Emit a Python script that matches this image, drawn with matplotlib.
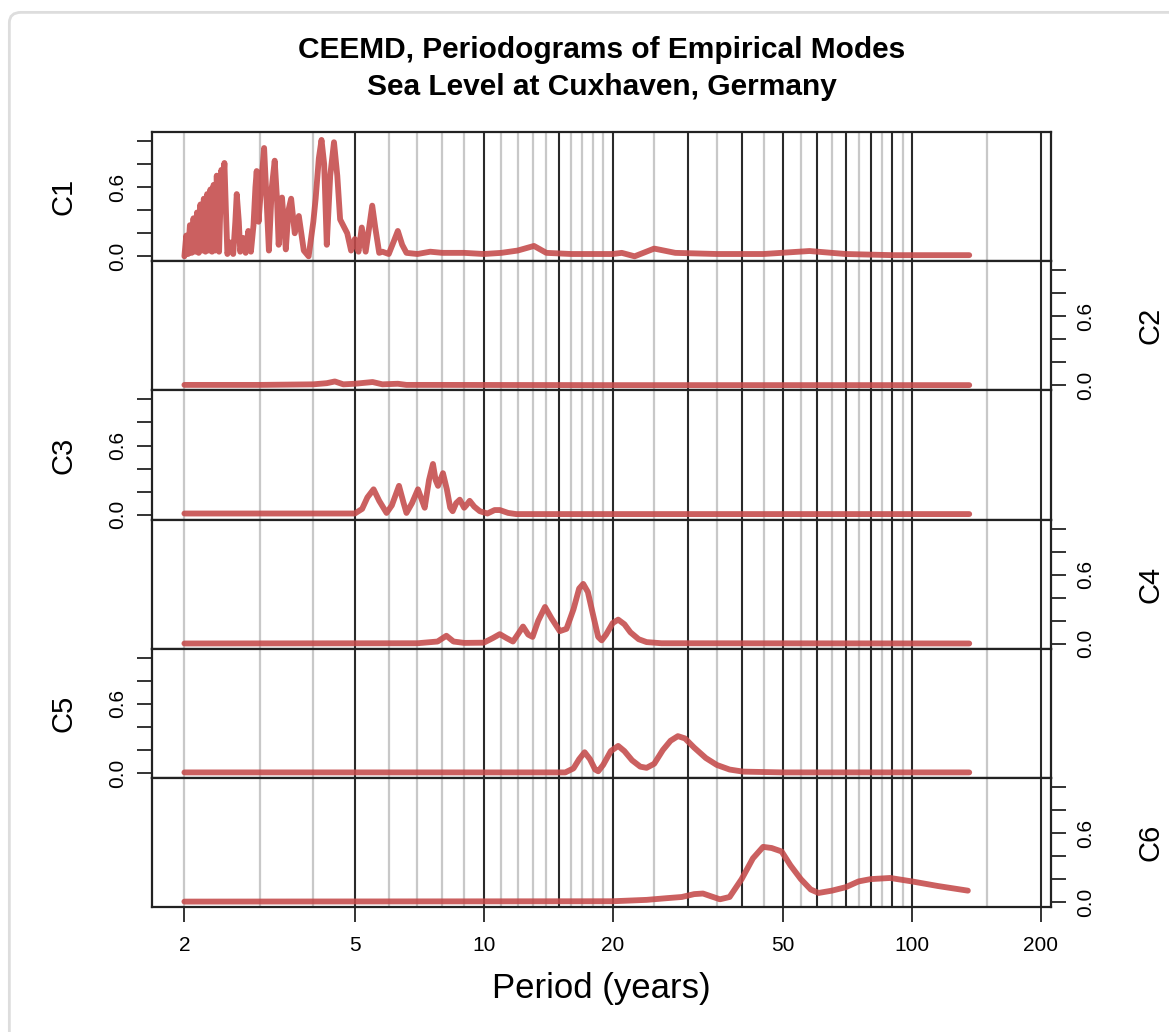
import matplotlib.pyplot as plt
import numpy as np
from matplotlib.patches import FancyBboxPatch

# periodogram values (period in years, power)
c1_period = [2.0, 2.02, 2.04, 2.06, 2.08, 2.1, 2.12, 2.14, 2.16, 2.18, 2.2, 2.22, 2.24, 2.26,
             2.28, 2.3, 2.32, 2.34, 2.36, 2.38, 2.41, 2.44, 2.46, 2.48, 2.5, 2.52, 2.56, 2.6,
             2.63, 2.65, 2.68, 2.7, 2.74, 2.78, 2.82, 2.86, 2.9, 2.93, 2.95, 2.98, 3.02, 3.07,
             3.11, 3.15, 3.2, 3.25, 3.29, 3.32, 3.38, 3.45, 3.5, 3.55, 3.62, 3.7, 3.8, 3.9,
             4.0, 4.05, 4.12, 4.18, 4.24, 4.3, 4.38, 4.47, 4.55, 4.62, 4.8, 4.9, 5.0, 5.1,
             5.19, 5.3, 5.4, 5.49, 5.58, 5.7, 5.8, 6.0, 6.15, 6.3, 6.45, 6.6, 7.0, 7.5, 8.0,
             9.0, 10.0, 11.0, 12.0, 13.1, 14.0, 16.0, 20.0, 21.0, 22.5, 25.0, 28.0, 35.0, 45.0,
             57.6, 70.0, 90.0, 136.0]
c1_value = [0.0, 0.18, 0.02, 0.27, 0.03, 0.33, 0.04, 0.38, 0.03, 0.45, 0.05, 0.5, 0.04, 0.54,
            0.05, 0.58, 0.04, 0.62, 0.05, 0.7, 0.04, 0.75, 0.6, 0.81, 0.4, 0.02, 0.12, 0.02,
            0.3, 0.54, 0.3, 0.04, 0.16, 0.03, 0.22, 0.04, 0.27, 0.6, 0.74, 0.3, 0.6, 0.94,
            0.5, 0.05, 0.6, 0.83, 0.5, 0.1, 0.51, 0.06, 0.4, 0.5, 0.2, 0.35, 0.05, 0.0,
            0.3, 0.5, 0.85, 1.01, 0.8, 0.1, 0.7, 0.99, 0.7, 0.32, 0.2, 0.05, 0.15, 0.04,
            0.25, 0.04, 0.25, 0.44, 0.25, 0.03, 0.04, 0.02, 0.12, 0.22, 0.1, 0.03, 0.02, 0.04, 0.03,
            0.03, 0.02, 0.03, 0.05, 0.09, 0.03, 0.02, 0.02, 0.03, 0.0, 0.067, 0.03, 0.02, 0.02,
            0.046, 0.02, 0.01, 0.01]

c2_period = [2.0, 3.0, 4.0, 4.3, 4.49, 4.7, 5.0, 5.5, 5.8, 6.3, 6.6, 8.0, 20.0, 136.0]
c2_value = [0.005, 0.005, 0.01, 0.02, 0.035, 0.01, 0.015, 0.03, 0.01, 0.015, 0.005, 0.005, 0.003, 0.003]

c3_period = [2.0, 5.0, 5.2, 5.35, 5.53, 5.7, 5.93, 6.1, 6.34, 6.5, 6.6, 6.8, 7.02, 7.18, 7.28,
             7.45, 7.61, 7.72, 7.82, 8.03, 8.2, 8.35, 8.46, 8.62, 8.79, 9.0, 9.1, 9.27, 9.5,
             9.79, 10.2, 10.6, 10.9, 11.4, 11.9, 136.0]
c3_value = [0.01, 0.01, 0.05, 0.15, 0.22, 0.12, 0.015, 0.08, 0.25, 0.1, 0.015, 0.1, 0.22, 0.12, 0.06,
            0.3, 0.44, 0.3, 0.25, 0.36, 0.22, 0.06, 0.03, 0.1, 0.13, 0.06, 0.08, 0.12, 0.07,
            0.03, 0.01, 0.04, 0.04, 0.015, 0.005, 0.005]

c4_period = [2.0, 7.0, 7.8, 8.18, 8.5, 9.0, 10.0, 10.5, 10.9, 11.3, 11.7, 12.0, 12.35, 12.7, 13.0,
             13.4, 13.9, 14.4, 15.05, 15.6, 16.2, 16.7, 17.07, 17.5, 18.0, 18.5, 18.85, 19.3,
             20.0, 20.6, 21.3, 22.0, 23.0, 24.0, 26.0, 136.0]
c4_value = [0.003, 0.005, 0.02, 0.07, 0.02, 0.008, 0.01, 0.05, 0.084, 0.05, 0.02, 0.08, 0.15, 0.08, 0.06,
            0.2, 0.32, 0.22, 0.11, 0.13, 0.3, 0.48, 0.52, 0.45, 0.25, 0.06, 0.03, 0.08,
            0.18, 0.21, 0.17, 0.1, 0.04, 0.015, 0.005, 0.003]

c5_period = [2.0, 15.5, 16.2, 16.7, 17.2, 17.7, 18.2, 18.5, 19.0, 19.8, 20.6, 21.3, 22.2, 23.2,
             24.0, 25.0, 26.2, 27.3, 28.4, 29.5, 31.0, 33.0, 35.0, 37.5, 40.3, 50.0, 136.0]
c5_value = [0.005, 0.005, 0.04, 0.12, 0.18, 0.12, 0.03, 0.015, 0.07, 0.19, 0.235, 0.19, 0.11, 0.055,
            0.045, 0.08, 0.2, 0.28, 0.32, 0.3, 0.22, 0.13, 0.07, 0.03, 0.012, 0.005, 0.005]

c6_period = [2.0, 20.0, 24.0, 26.8, 29.0, 31.0, 32.5, 34.0, 35.6, 37.5, 40.0, 42.5, 44.9, 47.0,
             49.6, 52.0, 55.0, 58.0, 60.5, 65.0, 70.0, 75.0, 80.0, 88.9, 100.0, 115.0, 135.0]
c6_value = [0.005, 0.008, 0.02, 0.035, 0.045, 0.07, 0.075, 0.05, 0.025, 0.045, 0.2, 0.38, 0.48, 0.47,
            0.44, 0.32, 0.2, 0.11, 0.08, 0.1, 0.13, 0.18, 0.2, 0.21, 0.18, 0.14, 0.10]

modes = ["C1", "C2", "C3", "C4", "C5", "C6"]
periods = [c1_period, c2_period, c3_period, c4_period, c5_period, c6_period]
values = [c1_value, c2_value, c3_value, c4_value, c5_value, c6_value]

gray_lines = [2, 3, 4, 6, 7, 8, 9, 11, 12, 13, 14, 16, 17, 18, 19, 25, 35, 45, 55, 65, 75, 85, 95, 150]
black_lines = [5, 10, 15, 20, 30, 40, 50, 60, 70, 80, 90, 100, 200]
x_ticks = [2, 5, 10, 20, 50, 100, 200]

plt.rcParams['font.family'] = ['Liberation Sans', 'DejaVu Sans']

fig, axes = plt.subplots(6, 1, figsize=(11.69, 10.32), dpi=100, sharex=True)
fig.subplots_adjust(left=0.130, right=0.899, top=0.872, bottom=0.121, hspace=0)

for i, ax in enumerate(axes):
    for g in gray_lines:
        ax.axvline(g, color='#c8c8c8', lw=1.6, zorder=0)
    for b in black_lines:
        ax.axvline(b, color='#2a2a2a', lw=1.5, zorder=1)
    ax.plot(periods[i], values[i], color='#c44a4a', lw=4.2, alpha=0.88, zorder=3,
            solid_joinstyle='round', solid_capstyle='round')
    ax.set_xscale('log')
    ax.set_xlim(1.68, 211)
    ax.set_ylim(-0.043, 1.078)
    for s in ax.spines.values():
        s.set_linewidth(1.6)
        s.set_color('#222222')
    ax.set_yticks([0, 0.2, 0.4, 0.6, 0.8, 1.0])
    ax.set_yticklabels(['0.0', '', '', '0.6', '', ''], rotation=90, va='center')
    ax.tick_params(axis='y', length=11, width=1.4, labelsize=15, pad=7, color='#333333')
    if i % 2 == 1:
        ax.yaxis.tick_right()
        ax.yaxis.set_label_position('right')
        ax.set_ylabel(modes[i], fontsize=21, rotation=90, labelpad=30)
    else:
        ax.set_ylabel(modes[i], fontsize=21, rotation=90, labelpad=22)
    ax.minorticks_off()
    ax.tick_params(axis='x', which='both', bottom=False, labelbottom=False)

bottom = axes[-1]
bottom.set_xticks(x_ticks)
bottom.set_xticklabels([str(t) for t in x_ticks])
bottom.tick_params(axis='x', which='major', bottom=True, labelbottom=True, length=11, width=1.4,
                   labelsize=15, pad=10, color='#333333')
bottom.tick_params(axis='x', which='minor', bottom=False)
bottom.set_xlabel("Period (years)", fontsize=25, labelpad=12)

fig.text(0.5145, 0.952, "CEEMD, Periodograms of Empirical Modes", ha='center', va='center',
         fontsize=21.5, fontweight='bold')
fig.text(0.5145, 0.916, "Sea Level at Cuxhaven, Germany", ha='center', va='center',
         fontsize=21.5, fontweight='bold')

frame = FancyBboxPatch((0.008, -0.02), 1.02, 1.008, boxstyle="round,pad=0,rounding_size=0.01",
                       transform=fig.transFigure, facecolor='none', edgecolor='#dddddd', lw=2)
fig.patches.append(frame)

fig.savefig("out.png", dpi=100)
